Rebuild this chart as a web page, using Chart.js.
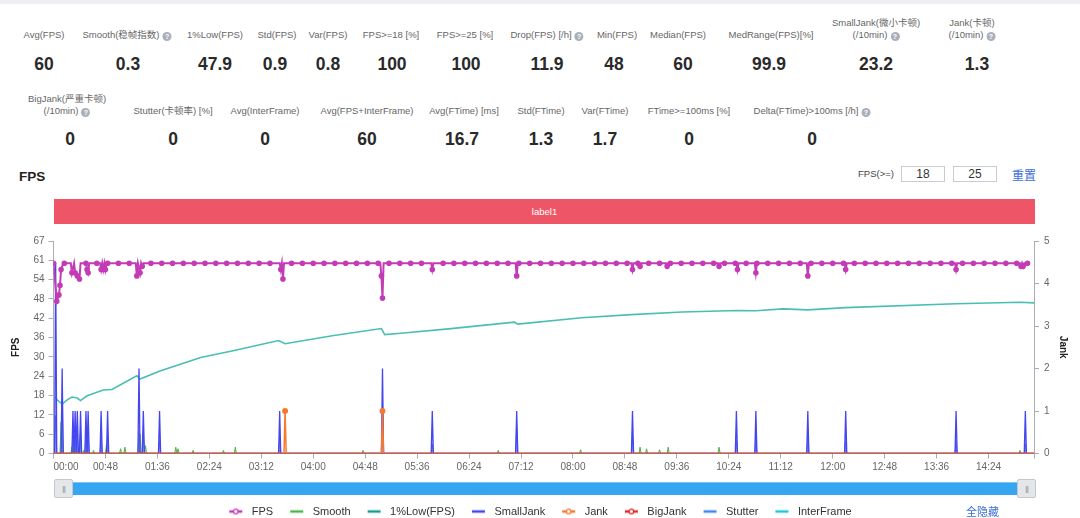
<!DOCTYPE html>
<html lang="zh">
<head>
<meta charset="utf-8">
<title>FPS</title>
<script src="https://cdn.jsdelivr.net/npm/chart.js@4.4.1/dist/chart.umd.min.js"></script>
<style>
  body { margin: 0; width: 1080px; height: 518px; overflow: hidden; background: #fff; position: relative;
         font-family: "Liberation Sans", Arial, "Noto Sans CJK SC", sans-serif; }
  #topband { position: absolute; left: 0; top: 0; width: 1080px; height: 4px; background: #eef0f4; }
  .lbl { position: absolute; transform: translateX(-50%); white-space: nowrap; text-align: center;
         font-size: 9.5px; line-height: 12px; color: #666; }
  .val { position: absolute; transform: translateX(-50%); white-space: nowrap;
         font-size: 17.5px; line-height: 20px; font-weight: bold; color: #2a2a2a; }
  .help { display: inline-block; width: 9px; height: 9px; margin-left: 3px; border-radius: 50%;
          background: #aab0ba; color: #fff; font-size: 7px; line-height: 9px; text-align: center;
          vertical-align: -1px; font-weight: bold; }
  #title { position: absolute; left: 19px; top: 169px; font-size: 13.5px; font-weight: bold; color: #222; }
  #fpsge { position: absolute; left: 858px; top: 168px; font-size: 9.5px; color: #444; }
  .box { position: absolute; top: 166px; width: 42px; height: 14px; border: 1px solid #c8ccd2;
         font-size: 12px; line-height: 14px; text-align: center; color: #333; }
  #reset { position: absolute; left: 1012px; top: 166px; font-size: 12px; color: #3b6fd6; }
  #labelbar { position: absolute; left: 54px; top: 199px; width: 981px; height: 25px; background: #ee5566;
              color: #fff; font-size: 9.5px; line-height: 25px; text-align: center; }
  #wrap { position: absolute; left: 0; top: 230px; width: 1080px; height: 297px; }
  #slider { position: absolute; left: 62px; top: 482px; width: 964px; height: 12px; background: #36a6f0;
            border-top: 1px solid #7cc6f6; }
  .handle { position: absolute; top: 479px; width: 17px; height: 17px; background: #e4e6ea;
            border: 1px solid #c4c8ce; border-radius: 2px; font-size: 7px; line-height: 17px;
            text-align: center; color: #8a8f98; letter-spacing: -1px; }
  #hideall { position: absolute; left: 966px; top: 503px; font-size: 11px; color: #3b6fd6; }
</style>
</head>
<body>
<div id="topband"></div>
<div id="stats"></div>
<div id="title">FPS</div>
<div id="fpsge">FPS(&gt;=)</div>
<div class="box" style="left:901px">18</div>
<div class="box" style="left:953px">25</div>
<div id="reset">重置</div>
<div id="labelbar">label1</div>
<div id="wrap"><canvas id="fpsChart" width="1080" height="297"></canvas></div>
<div id="slider"></div>
<div class="handle" style="left:54px">|||</div>
<div class="handle" style="left:1017px">|||</div>
<div id="hideall">全隐藏</div>

<script>
// summary numbers shown above the chart
const statsTop = [
  { label: 'Avg(FPS)', value: '60', x: 44 },
  { label: 'Smooth(稳帧指数)', value: '0.3', x: 127, vx: 128, help: true },
  { label: '1%Low(FPS)', value: '47.9', x: 215 },
  { label: 'Std(FPS)', value: '0.9', x: 277, vx: 275 },
  { label: 'Var(FPS)', value: '0.8', x: 328 },
  { label: 'FPS>=18 [%]', value: '100', x: 391, vx: 392 },
  { label: 'FPS>=25 [%]', value: '100', x: 465, vx: 466 },
  { label: 'Drop(FPS) [/h]', value: '11.9', x: 547, help: true },
  { label: 'Min(FPS)', value: '48', x: 617, vx: 614 },
  { label: 'Median(FPS)', value: '60', x: 678, vx: 683 },
  { label: 'MedRange(FPS)[%]', value: '99.9', x: 771, vx: 769 },
  { label: 'SmallJank(微小卡顿)\n(/10min)', value: '23.2', x: 876, help: true },
  { label: 'Jank(卡顿)\n(/10min)', value: '1.3', x: 972, vx: 977, help: true }
];
const statsBottom = [
  { label: 'BigJank(严重卡顿)\n(/10min)', value: '0', x: 67, vx: 70, help: true },
  { label: 'Stutter(卡顿率) [%]', value: '0', x: 173 },
  { label: 'Avg(InterFrame)', value: '0', x: 265 },
  { label: 'Avg(FPS+InterFrame)', value: '60', x: 367 },
  { label: 'Avg(FTime) [ms]', value: '16.7', x: 464, vx: 462 },
  { label: 'Std(FTime)', value: '1.3', x: 541 },
  { label: 'Var(FTime)', value: '1.7', x: 605 },
  { label: 'FTime>=100ms [%]', value: '0', x: 689 },
  { label: 'Delta(FTime)>100ms [/h]', value: '0', x: 812, help: true }
];

// time axis (seconds)
const sessionEnd = 906;
const timeTicks = [0, 48, 96, 144, 192, 240, 288, 336, 384, 432, 480, 528, 576, 624, 672, 720, 768, 816, 864];
const timeTickLabels = ['00:00', '00:48', '01:36', '02:24', '03:12', '04:00', '04:48', '05:36', '06:24', '07:12',
  '08:00', '08:48', '09:36', '10:24', '11:12', '12:00', '12:48', '13:36', '14:24'];
const fpsTickLabels = ['0', '6', '12', '18', '24', '30', '36', '42', '48', '54', '61', '67'];
const jankTickLabels = ['0', '1', '2', '3', '4', '5'];

// FPS sampled every 10 s, the drops in between [sec, fps], and the seconds where it is back at 60
const fpsEvery10s = [
  60, 60, 60, 60, 60, 60, 60, 60, 60, 60, 60, 60, 60, 60, 60, 60, 60, 60, 60, 60,
  60, 60, 60, 60, 60, 60, 60, 60, 60, 60, 60, 60, 60, 60, 60, 60, 60, 60, 60, 60,
  60, 60, 60, 60, 60, 60, 60, 60, 60, 60, 60, 60, 60, 60, 60, 60, 60, 60, 60, 60,
  60, 60, 60, 60, 60, 60, 60, 60, 60, 60, 60, 60, 60, 60, 60, 60, 60, 60, 60, 60,
  60, 60, 60, 60, 60, 60, 60, 60, 60, 60, 60
];
const fpsDrops = [
  [3, 48], [5, 50], [6, 53], [7, 58], [17, 57], [20, 57], [22, 56], [24, 55], [31, 58], [32, 57],
  [44, 58], [46, 58], [48, 58], [77, 56], [80, 57], [82, 59], [210, 58], [212, 55], [303, 56], [304, 49],
  [350, 58], [428, 56], [535, 58], [542, 59], [567, 59], [615, 59], [632, 58], [649, 57], [697, 56],
  [732, 58], [834, 58], [894, 59], [896, 59]
];
const fpsRecoveredAt = [
  9, 16, 19, 25, 33, 43, 45, 47, 49, 76, 78, 81, 83, 209, 211, 213, 302, 305, 349, 351, 427, 429, 534, 536,
  541, 543, 566, 568, 614, 616, 631, 633, 648, 650, 696, 698, 731, 733, 833, 835, 893, 895, 897
];

// 1%Low(FPS) [sec, fps]
const low1 = [
  [2, 18], [3, 17], [8, 15.6], [13, 17], [17, 17.8], [22, 17.5], [25, 16.7], [31, 18.2], [46, 20], [54, 20.2],
  [77, 24.5], [80, 23.5], [99, 26.1], [136, 30.3], [167, 32.5], [208, 35.6], [214, 34.6], [259, 37.2],
  [303, 39.4], [306, 37.5], [321, 37.9], [365, 39.3], [426, 41.4], [429, 40.8], [488, 42.8], [534, 43.8],
  [581, 44.6], [632, 45.1], [649, 45], [674, 45.6], [697, 45.3], [732, 46], [834, 47.2], [893, 47.7], [906, 47.5]
];

// event series, zero except at these seconds [sec, value]
const smoothSpikes = [
  [7, 10], [17, 2], [21, 3], [25, 7], [28, 1], [37, 1], [49, 3], [62, 1.5], [66, 2], [80, 6], [85, 2.5],
  [113, 2], [115, 1.5], [129, 1], [157, 1], [168, 2], [286, 1], [411, 1], [487, 1.2], [542, 2], [548, 1.5],
  [560, 1.2], [568, 2], [615, 2], [893, 1]
];
const smallJankSpikes = [
  [2, 4.5], [8, 2], [18, 1], [20, 1], [22, 1], [25, 1], [30, 1], [32, 1], [44, 1], [50, 1], [79, 2], [83, 1],
  [98, 1], [209, 1], [304, 2], [350, 1], [428, 1], [535, 1], [631, 1], [649, 1], [697, 1], [732, 1], [834, 1], [898, 1]
];
const jankSpikes = [[214, 1], [304, 1]];
const bigJankSpikes = [];
const stutterSpikes = [
  [2, 12], [8, 17], [18, 5], [20, 6], [22, 5], [25, 7], [30, 6], [32, 5], [44, 5], [50, 5], [79, 7], [83, 6],
  [98, 4], [209, 5], [304, 15], [350, 3], [428, 8], [535, 5], [631, 4], [649, 5], [697, 5], [732, 4], [834, 4], [898, 3]
];
const interFrameSpikes = [];

// --- header stats
const statsEl = document.getElementById('stats');
function placeStats(list, labelY, valueY) {
  list.forEach(s => {
    const lines = s.label.split('\n');
    const l = document.createElement('div');
    l.className = 'lbl';
    l.style.left = s.x + 'px';
    l.style.top = (labelY - 6 - 12 * (lines.length - 1)) + 'px';
    l.innerHTML = lines.map(t => t.replace(/</g, '&lt;').replace(/>/g, '&gt;')).join('<br>') +
      (s.help ? '<span class="help">?</span>' : '');
    statsEl.appendChild(l);
    const v = document.createElement('div');
    v.className = 'val';
    v.style.left = (s.vx || s.x) + 'px';
    v.style.top = (valueY - 10) + 'px';
    v.textContent = s.value;
    statsEl.appendChild(v);
  });
}
placeStats(statsTop, 35, 64);
placeStats(statsBottom, 111, 139);

// --- chart data
function fpsPoints() {
  const bySec = new Map();
  fpsEvery10s.forEach((v, i) => bySec.set(i * 10, v));
  fpsRecoveredAt.forEach(t => bySec.set(t, 60));
  fpsDrops.forEach(([t, v]) => bySec.set(t, v));
  return [...bySec.entries()].sort((a, b) => a[0] - b[0]).map(([x, y]) => ({ x, y }));
}
function spikePoints(list) {
  const pts = [{ x: 0, y: 0 }];
  list.forEach(([t, v]) => pts.push({ x: t - 1, y: 0 }, { x: t, y: v }, { x: t + 1, y: 0 }));
  pts.push({ x: sessionEnd, y: 0 });
  return pts;
}

const colors = {
  fps: '#c43bb6', smooth: '#4fb44b', low: '#48bfb2', lowIcon: '#169c8e', small: '#4545f0',
  jank: '#f7782e', big: '#e5262b', stutter: '#3d86ef', inter: '#21c5dc'
};

function legendIcon(color, dot) {
  const c = document.createElement('canvas');
  c.width = 18; c.height = 10;
  const g = c.getContext('2d');
  g.strokeStyle = color; g.lineWidth = 2.5;
  g.beginPath(); g.moveTo(1, 5); g.lineTo(14, 5); g.stroke();
  if (dot) {
    g.beginPath(); g.arc(7.5, 5, 2.3, 0, Math.PI * 2);
    g.fillStyle = '#fff'; g.fill(); g.lineWidth = 1.3; g.stroke();
  }
  return c;
}
const icons = [
  legendIcon(colors.fps, true), legendIcon(colors.smooth), legendIcon(colors.lowIcon), legendIcon(colors.small),
  legendIcon(colors.jank, true), legendIcon(colors.big, true), legendIcon(colors.stutter), legendIcon(colors.inter)
];

const font = '"Liberation Sans", Arial, "Noto Sans CJK SC", sans-serif';
const axisColor = '#a8adb5';

new Chart(document.getElementById('fpsChart'), {
  type: 'line',
  data: {
    datasets: [
      { label: 'FPS', data: fpsPoints(), yAxisID: 'y', borderColor: colors.fps, backgroundColor: colors.fps,
        borderWidth: 2,
        pointRadius: ctx => (ctx.raw && (ctx.raw.y < 60 || ctx.raw.x % 10 === 0) ? 1.8 : 0),
        pointHoverRadius: 3, order: 0 },
      { label: 'Smooth', data: spikePoints(smoothSpikes), yAxisID: 'y', borderColor: colors.smooth,
        backgroundColor: 'rgba(79,180,75,0.35)', fill: 'origin', borderWidth: 1, pointRadius: 0, order: 5 },
      { label: '1%Low(FPS)', data: low1.map(([x, y]) => ({ x, y })), yAxisID: 'y', borderColor: colors.low,
        backgroundColor: colors.low, borderWidth: 1.6, pointRadius: 0, order: 4 },
      { label: 'SmallJank', data: spikePoints(smallJankSpikes), yAxisID: 'y1', borderColor: colors.small,
        backgroundColor: 'rgba(96,96,245,0.3)', fill: 'origin', borderWidth: 1.3, pointRadius: 0, order: 3 },
      { label: 'Jank', data: spikePoints(jankSpikes), yAxisID: 'y1', borderColor: colors.jank,
        backgroundColor: colors.jank, borderWidth: 1.5,
        pointRadius: ctx => (ctx.raw && ctx.raw.y > 0 ? 2.2 : 0), order: 1 },
      { label: 'BigJank', data: spikePoints(bigJankSpikes), yAxisID: 'y1', borderColor: colors.big,
        backgroundColor: colors.big, borderWidth: 1.5, pointRadius: 0, order: 2 },
      { label: 'Stutter', data: spikePoints(stutterSpikes), yAxisID: 'y', borderColor: 'rgba(50,100,225,0.8)',
        backgroundColor: 'rgba(50,100,225,0.35)', fill: 'origin', borderWidth: 1, pointRadius: 0, order: 6 },
      { label: 'InterFrame', data: spikePoints(interFrameSpikes), yAxisID: 'y', borderColor: colors.inter,
        backgroundColor: colors.inter, borderWidth: 1.5, pointRadius: 0, order: 7 }
    ]
  },
  options: {
    responsive: false,
    animation: false,
    layout: { padding: { top: 11, left: 0, right: 0, bottom: 0 } },
    interaction: { mode: 'nearest', intersect: false },
    plugins: {
      tooltip: { enabled: false },
      legend: {
        position: 'bottom',
        labels: {
          usePointStyle: true,
          pointStyleWidth: 18,
          padding: 16,
          color: '#333',
          font: { size: 11, family: font },
          sort: (a, b) => a.datasetIndex - b.datasetIndex,
          generateLabels(chart) {
            const items = Chart.defaults.plugins.legend.labels.generateLabels(chart);
            items.forEach(it => { it.pointStyle = icons[it.datasetIndex]; });
            return items;
          }
        }
      }
    },
    scales: {
      x: {
        type: 'linear',
        min: 0,
        max: sessionEnd,
        afterBuildTicks: s => { s.ticks = timeTicks.concat([sessionEnd]).map(v => ({ value: v })); },
        afterFit: s => { s.height = 36.5; },
        ticks: {
          autoSkip: false, maxRotation: 0, align: 'inner', padding: 3,
          color: '#666', font: { size: 10, family: font },
          callback: (v, i) => timeTickLabels[i] ?? ''
        },
        grid: { drawOnChartArea: false, drawTicks: true, tickLength: 5, color: axisColor },
        border: { color: axisColor }
      },
      y: {
        position: 'left',
        min: 0,
        max: 67,
        afterFit: s => { s.width = 53.5; },
        ticks: {
          count: 12, padding: 4, color: '#666', font: { size: 10, family: font },
          callback: (v, i) => fpsTickLabels[i]
        },
        grid: { drawOnChartArea: false, drawTicks: true, tickLength: 5, color: axisColor },
        border: { color: axisColor },
        title: { display: true, text: 'FPS', color: '#222', font: { size: 10, weight: 'bold', family: font },
                 padding: { top: 10 } }
      },
      y1: {
        position: 'right',
        min: 0,
        max: 5,
        afterFit: s => { s.width = 46; },
        ticks: {
          stepSize: 1, padding: 5, color: '#666', font: { size: 10, family: font },
          callback: (v, i) => jankTickLabels[i]
        },
        grid: { drawOnChartArea: false, drawTicks: true, tickLength: 5, color: axisColor },
        border: { color: axisColor },
        title: { display: true, text: 'Jank', color: '#222', font: { size: 10, weight: 'bold', family: font },
                 padding: { top: 11 } }
      }
    }
  }
});
</script>
</body>
</html>
